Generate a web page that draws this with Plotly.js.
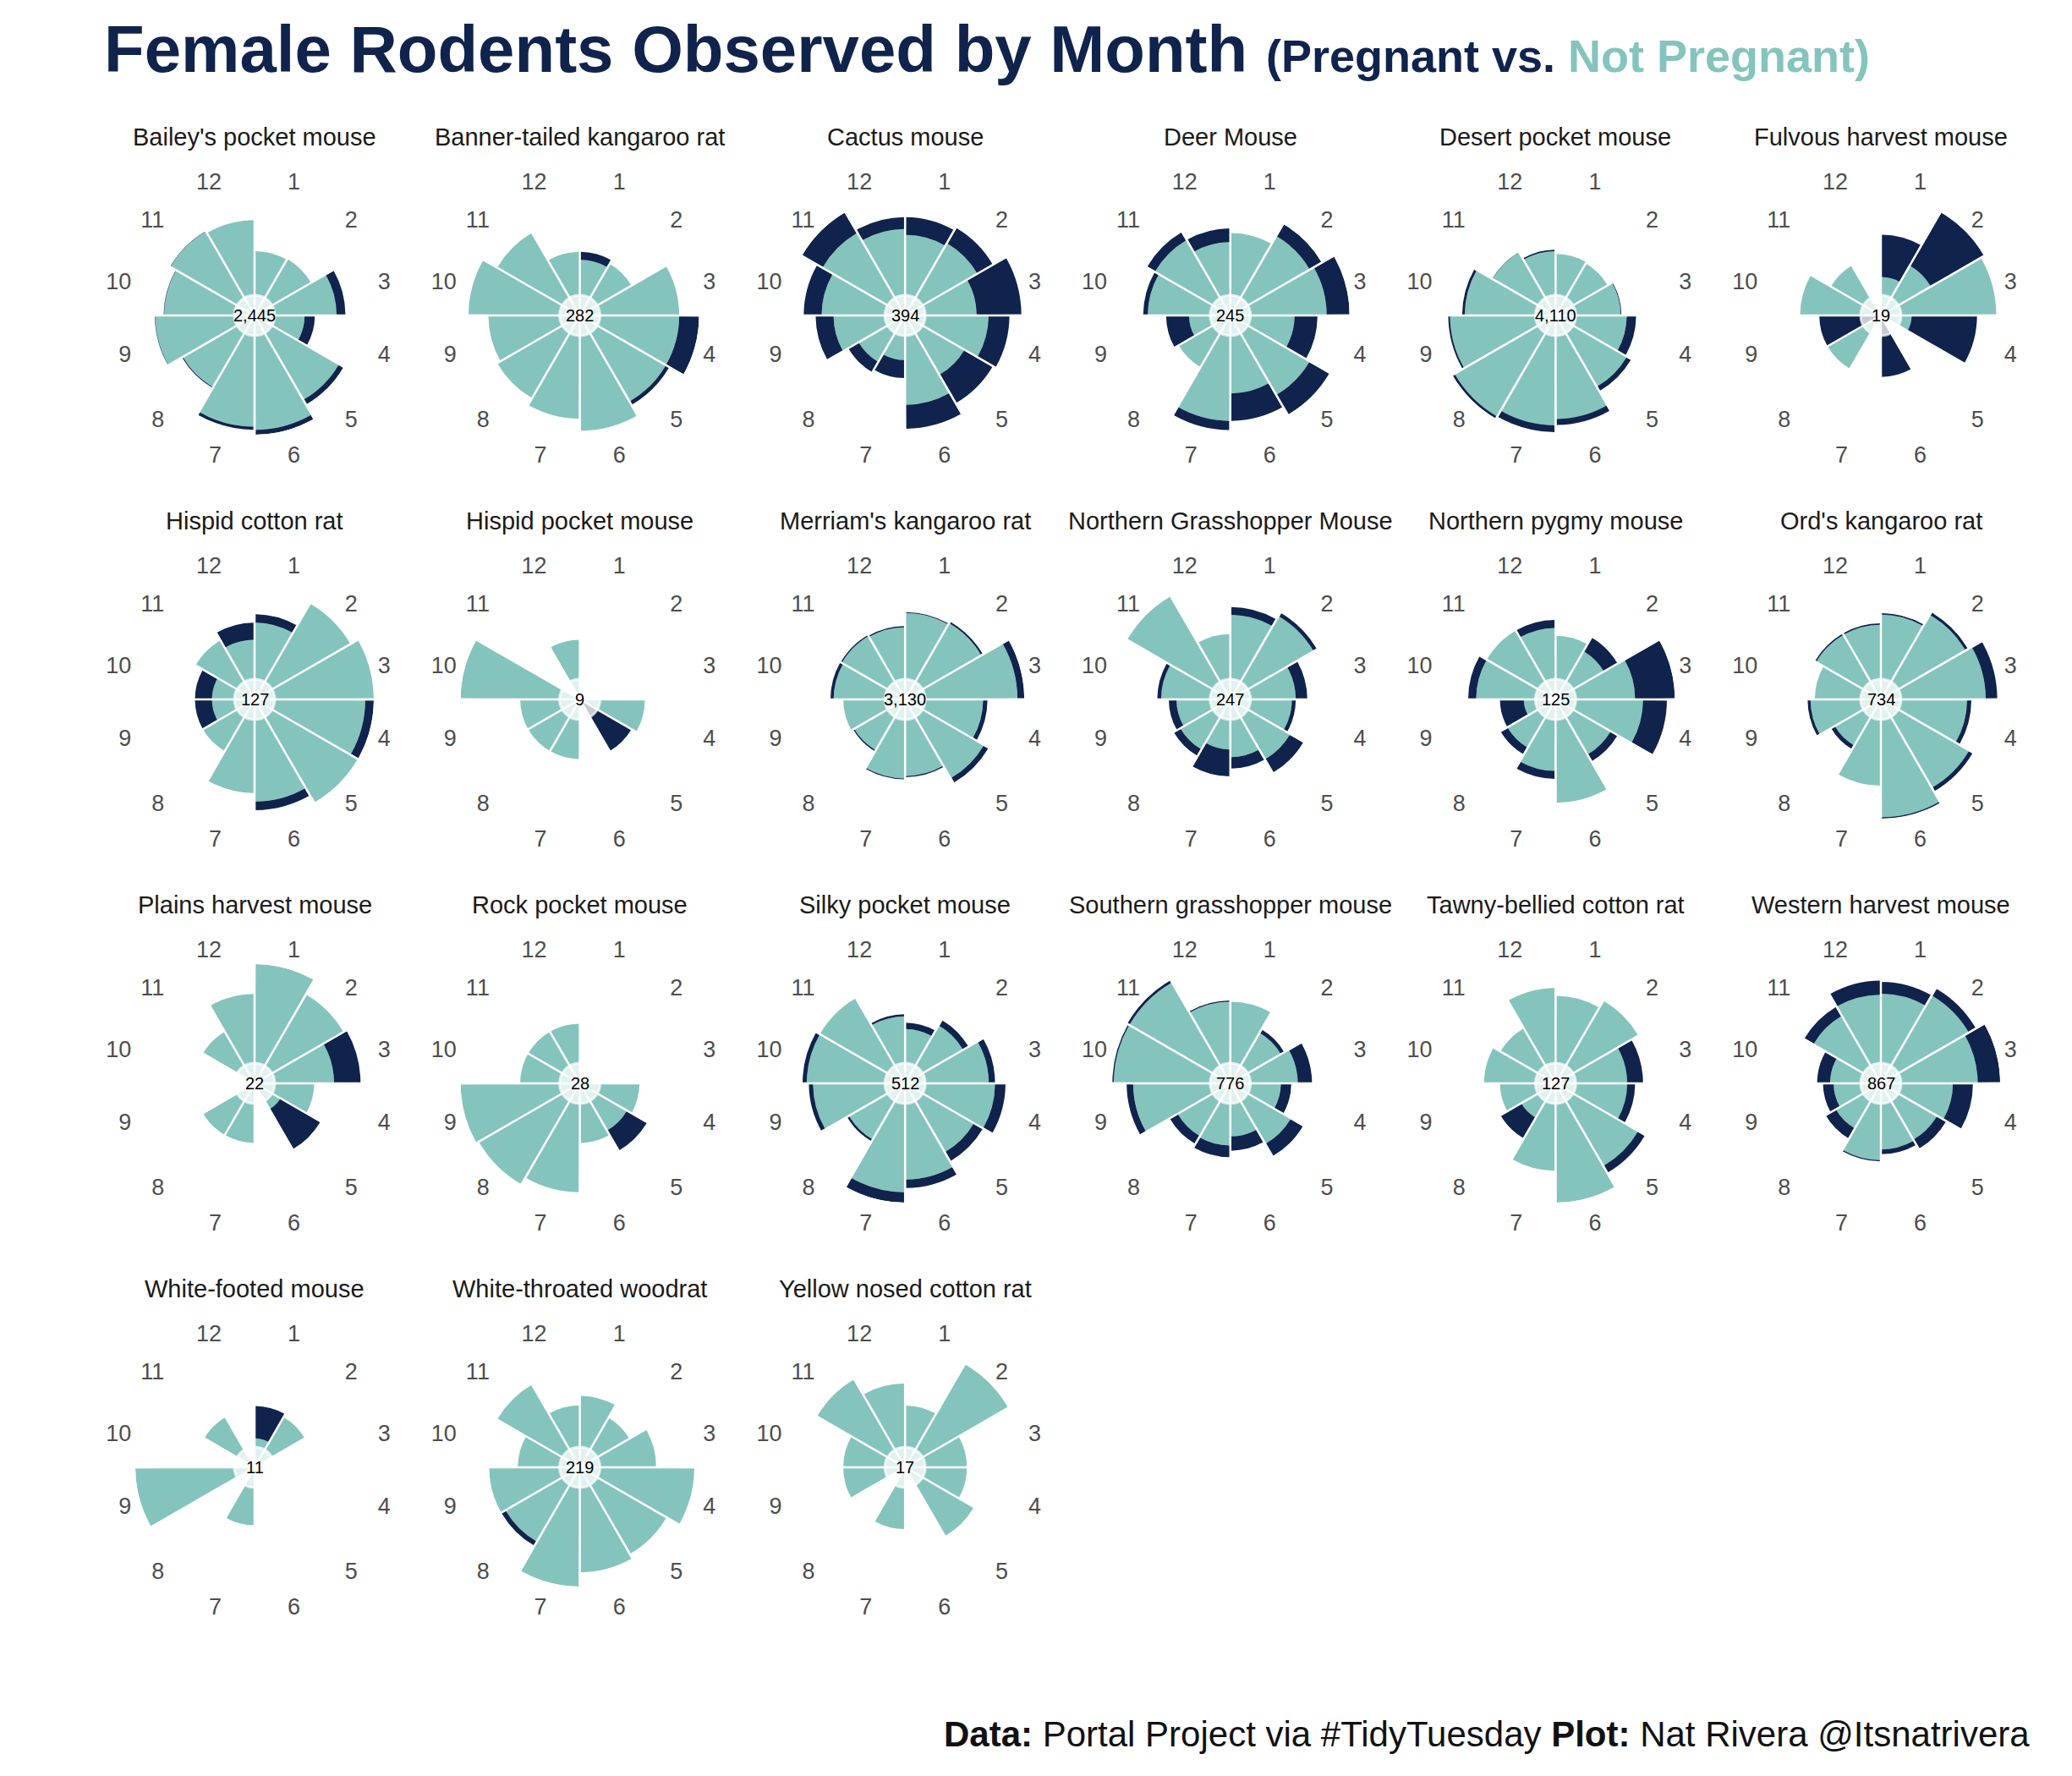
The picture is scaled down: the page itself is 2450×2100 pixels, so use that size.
<!DOCTYPE html>
<html>
<head>
<meta charset="utf-8">
<script src="https://cdn.plot.ly/plotly-3.0.1.min.js"></script>
<style>
  html, body { margin: 0; padding: 0; background: #ffffff; }
  #chart { width: 2450px; height: 2100px; }
</style>
</head>
<body>
<div id="chart"></div>
<script>
// ---------------- DATA ----------------
const species = [
  "Bailey's pocket mouse", "Banner-tailed kangaroo rat", "Cactus mouse", "Deer Mouse",
  "Desert pocket mouse", "Fulvous harvest mouse", "Hispid cotton rat", "Hispid pocket mouse",
  "Merriam's kangaroo rat", "Northern Grasshopper Mouse", "Northern pygmy mouse", "Ord's kangaroo rat",
  "Plains harvest mouse", "Rock pocket mouse", "Silky pocket mouse", "Southern grasshopper mouse",
  "Tawny-bellied cotton rat", "Western harvest mouse", "White-footed mouse", "White-throated woodrat",
  "Yellow nosed cotton rat"
];

// number printed in the centre of each rose
const totals = [2445, 282, 394, 245, 4110, 19, 127, 9, 3130, 247, 125, 734,
                22, 28, 512, 776, 127, 867, 11, 219, 17];

const monthLabels = ["1", "2", "3", "4", "5", "6", "7", "8", "9", "10", "11", "12"];

// females NOT pregnant, months 1..12 (inner, teal)
const notPregnant = [
  [145, 147, 185, 113, 220, 258, 251, 187, 224, 204, 219, 215], // Bailey's pocket mouse
  [14, 15, 25, 25, 25, 29, 26, 24, 23, 28, 24, 16],             // Banner-tailed kangaroo rat
  [27, 28, 24, 28, 23, 30, 15, 18, 24, 28, 32, 29],             // Cactus mouse
  [18, 20, 21, 14, 20, 17, 23, 13, 9, 18, 19, 16],              // Deer Mouse
  [243, 237, 257, 281, 325, 409, 434, 461, 417, 359, 288, 254], // Desert pocket mouse
  [1.0, 1.5, 3.0, 0.8, 0, 0, 0, 1.6, 0, 2.1, 1.5, 0],           // Fulvous harvest mouse
  [9, 13, 14, 13, 14, 12, 11, 7, 5, 5, 8, 7],                   // Hispid cotton rat
  [0, 0, 0, 1.2, 0, 0, 1.1, 1.1, 1.1, 2.2, 0, 1.1],             // Hispid pocket mouse
  [277, 282, 360, 250, 292, 245, 253, 188, 198, 229, 234, 231], // Merriam's kangaroo rat
  [22, 25, 17, 16, 18, 15, 13, 15, 14, 18, 31, 17],             // Northern Grasshopper Mouse
  [8, 7, 10, 11, 8, 13, 9, 7, 4, 10, 10, 9],                    // Northern pygmy mouse
  [59, 68, 73, 60, 71, 82, 60, 37, 49, 46, 52, 52],             // Ord's kangaroo rat
  [3.6, 3.1, 2.4, 1.8, 0.9, 0, 1.8, 1.8, 0, 0, 1.8, 2.7],       // Plains harvest mouse
  [0, 0, 0, 2.3, 2.1, 2.3, 4.2, 4.5, 4.6, 2.3, 2.3, 2.3],       // Rock pocket mouse
  [26, 32, 40, 43, 38, 46, 52, 31, 44, 47, 47, 32],             // Silky pocket mouse
  [63, 45, 52, 39, 54, 41, 48, 47, 75, 90, 90, 63],             // Southern grasshopper mouse
  [11, 12, 9, 9, 12, 15, 11, 5, 7, 9, 8, 12],                   // Tawny-bellied cotton rat
  [76, 86, 82, 61, 55, 56, 65, 44, 40, 43, 66, 75],             // Western harvest mouse
  [0.9, 1.8, 0, 0, 0, 0, 1.8, 0, 3.7, 0, 1.8, 0],               // White-footed mouse
  [15, 12, 16, 24, 21, 22, 25, 18, 19, 13, 20, 13],             // White-throated woodrat
  [1.4, 2.7, 1.4, 1.4, 1.8, 0, 1.4, 0, 1.4, 1.4, 2.3, 1.9]      // Yellow nosed cotton rat
];

// females pregnant, months 1..12 (outer, navy)
const pregnant = [
  [0, 0, 20, 23, 12, 11, 7, 2, 1, 1, 1, 0],
  [2, 0, 0, 5, 1, 0, 0, 0, 0, 0, 0, 0],
  [6, 6, 15, 7, 11, 8, 6, 4, 6, 6, 8, 4],
  [0, 3, 5, 5, 5, 6, 2, 0, 5, 1, 2, 3],
  [0, 0, 3, 37, 20, 24, 27, 10, 7, 10, 1, 6],
  [1.1, 1.6, 0, 1.7, 0, 1.6, 0, 0, 1.6, 0, 0, 0],
  [1, 0, 0, 1, 0, 1, 0, 0, 2, 2, 0, 2],
  [0, 0, 0, 0, 1.1, 0, 0, 0, 0, 0, 0, 0],
  [3, 6, 22, 14, 17, 4, 3, 4, 0, 10, 4, 4],
  [2, 1, 3, 1, 4, 3, 7, 2, 2, 1, 0, 0],
  [0, 2, 5, 3, 1, 0, 1, 1, 3, 1, 0, 1],
  [1, 2, 8, 3, 3, 1, 0, 3, 2, 0, 1, 1],
  [0, 0, 0.8, 0, 1.4, 0, 0, 0, 0, 0, 0, 0],
  [0, 0, 0, 0, 0.9, 0, 0, 0, 0, 0, 0, 0],
  [3, 3, 3, 5, 5, 4, 5, 1, 2, 2, 0, 1],
  [0, 3, 11, 8, 11, 11, 9, 7, 5, 1, 2, 1],
  [0, 0, 2, 1, 1, 0, 0, 3, 0, 0, 0, 0],
  [10, 7, 19, 17, 9, 4, 1, 10, 9, 11, 9, 12],
  [1.0, 0, 0, 0, 0, 0, 0, 0, 0, 0, 0, 0],
  [0, 0, 0, 0, 0, 0, 0, 1, 0, 0, 0, 0],
  [0, 0, 0, 0, 0, 0, 0, 0, 0, 0, 0, 0]
];

// ---------------- LAYOUT / STYLE ----------------
const W = 2450, H = 2100;
const TEAL = "#84c4bd", NAVY = "#10234c";
const FONT = "Liberation Sans, Arial, Helvetica, sans-serif";
const COLS = 6, COL_X0 = 301, COL_DX = 384.6, ROW_Y0 = 373, ROW_DY = 454;
const R = 141, HOLE_R = 24, STRIP_OFFSET = 211;

// month m is centred at (m - 0.5) * 30 degrees, clockwise from 12 o'clock
const theta = monthLabels.map((_, i) => (i + 0.5) * 30);

const data = [];
const annotations = [];
const shapes = [];
const layout = {
  width: W, height: H,
  margin: { l: 0, r: 0, t: 0, b: 0, pad: 0 },
  paper_bgcolor: "#ffffff",
  plot_bgcolor: "#ffffff",
  font: { family: FONT, color: "#1a1a1a" },
  showlegend: false,
  title: {
    text: "<b>Female Rodents Observed by Month</b> " +
          "<span style=\"font-size:54px\"><b>(Pregnant vs. </b></span>" +
          "<span style=\"font-size:54px;color:" + TEAL + "\"><b>Not Pregnant)</b></span>",
    font: { family: FONT, size: 78, color: NAVY },
    x: 123 / W, xref: "paper", xanchor: "left",
    y: 1 - 58 / H, yref: "container", yanchor: "middle"
  }
};

species.forEach((name, i) => {
  const col = i % COLS, row = Math.floor(i / COLS);
  const cx = COL_X0 + col * COL_DX;
  const cy = ROW_Y0 + row * ROW_DY;
  const sub = i === 0 ? "polar" : "polar" + (i + 1);
  const stackTotals = notPregnant[i].map((v, k) => v + pregnant[i][k]);
  const rmax = Math.max(...stackTotals);

  layout[sub] = {
    domain: { x: [(cx - R) / W, (cx + R) / W], y: [1 - (cy + R) / H, 1 - (cy - R) / H] },
    bgcolor: "rgba(0,0,0,0)",
    hole: 0,
    barmode: "stack",
    radialaxis: { visible: false, range: [0, rmax], showgrid: false, showline: false, showticklabels: false, ticks: "" },
    angularaxis: {
      direction: "clockwise", rotation: 90,
      tickmode: "array", tickvals: theta, ticktext: monthLabels,
      showline: false, showgrid: false,
      ticks: "outside", ticklen: 4, tickcolor: "rgba(0,0,0,0)",
      tickfont: { family: FONT, size: 27, color: "#4d4d4d" }
    }
  };

  data.push({
    type: "barpolar", subplot: sub, name: "Not Pregnant",
    r: notPregnant[i], theta: theta, width: 29,
    marker: { color: TEAL, line: { width: 0 } },
    hoverinfo: "skip"
  });
  data.push({
    type: "barpolar", subplot: sub, name: "Pregnant",
    r: pregnant[i], theta: theta, width: 29,
    marker: { color: NAVY, line: { width: 0 } },
    hoverinfo: "skip"
  });

  // thin white separators between the monthly wedges
  const sepR = [], sepT = [];
  for (let k = 0; k < 12; k++) {
    sepR.push(0, rmax, null);
    sepT.push(k * 30, k * 30, null);
  }
  data.push({
    type: "scatterpolar", subplot: sub, mode: "lines",
    r: sepR, theta: sepT, connectgaps: false,
    line: { color: "#ffffff", width: 2.5 },
    hoverinfo: "skip"
  });

  // translucent white centre disc
  shapes.push({
    type: "circle", xref: "paper", yref: "paper", layer: "above",
    x0: (cx - HOLE_R) / W, x1: (cx + HOLE_R) / W,
    y0: 1 - (cy + HOLE_R) / H, y1: 1 - (cy - HOLE_R) / H,
    fillcolor: "rgba(255,255,255,0.76)",
    line: { color: "rgba(255,255,255,0.7)", width: 3 }
  });

  // centre total
  annotations.push({
    xref: "paper", yref: "paper", x: cx / W, y: 1 - cy / H,
    text: totals[i].toLocaleString("en-US"),
    showarrow: false, xanchor: "center", yanchor: "middle",
    font: { family: FONT, size: 20, color: "#000000" }
  });

  // strip title
  annotations.push({
    xref: "paper", yref: "paper", x: cx / W, y: 1 - (cy - STRIP_OFFSET) / H,
    text: name, showarrow: false, xanchor: "center", yanchor: "middle",
    font: { family: FONT, size: 29, color: "#1a1a1a" }
  });
});

// caption
annotations.push({
  xref: "paper", yref: "paper", x: 2402 / W, y: 1 - 2050 / H,
  xanchor: "right", yanchor: "middle", showarrow: false,
  text: "<b>Data:</b> Portal Project via #TidyTuesday <b>Plot:</b> Nat Rivera @Itsnatrivera",
  font: { family: FONT, size: 42, color: "#111111" }
});

layout.annotations = annotations;
layout.shapes = shapes;

Plotly.newPlot("chart", data, layout, { displayModeBar: false, staticPlot: true });
</script>
</body>
</html>
